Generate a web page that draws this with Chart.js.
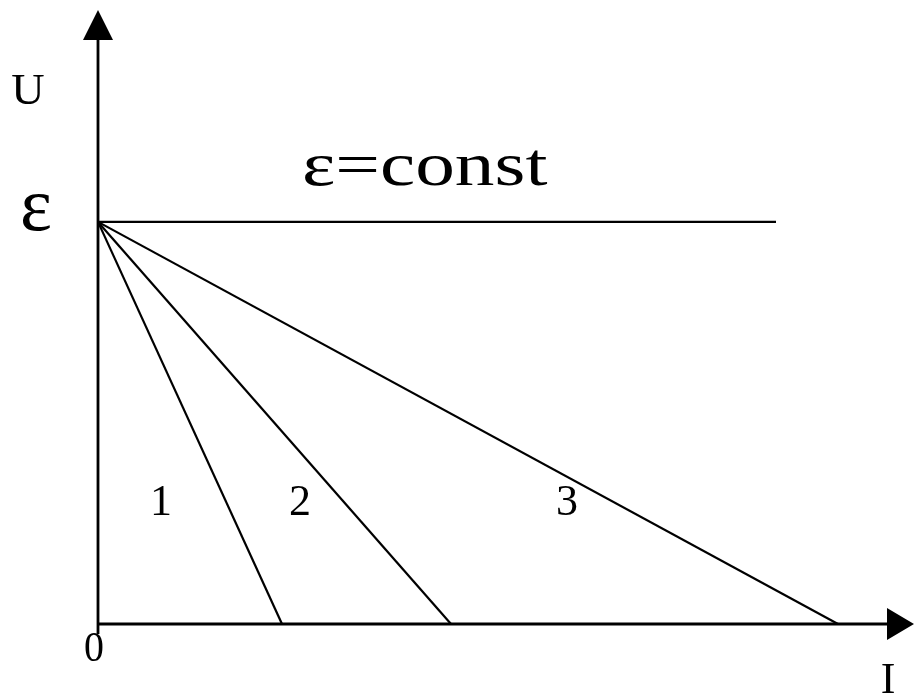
<!DOCTYPE html>
<html>
<head>
<meta charset="utf-8">
<script src="https://cdn.jsdelivr.net/npm/chart.js@4/dist/chart.umd.min.js"></script>
<style>
  html, body { margin: 0; padding: 0; background: #fff; }
  #wrap { width: 915px; height: 698px; position: relative; }
</style>
</head>
<body>
<div id="wrap"><canvas id="c" width="915" height="698"></canvas></div>
<script>
// ---- data (U in units of EMF, I in arbitrary units) ----
const emf = 1.0;                        // ε level
const emfLineEnd = 6.78;                // I where the ε=const line stops
const shortCircuitI = [1.84, 3.53, 7.40]; // I where lines 1, 2, 3 reach U = 0
const seriesNames = ['1', '2', '3'];
const axisMaxI = 8.16;
const axisMaxU = 1.527;

const datasets = [];
datasets.push({
  label: 'ε=const',
  data: [{x: 0, y: emf}, {x: emfLineEnd, y: emf}],
});
shortCircuitI.forEach((isc, i) => {
  datasets.push({
    label: seriesNames[i],
    data: [{x: 0, y: emf}, {x: isc, y: 0}],
  });
});
datasets.forEach(d => {
  d.showLine = true;
  d.borderColor = '#000';
  d.borderWidth = 2.2;
  d.pointRadius = 0;
  d.fill = false;
  d.clip = false;
});

// label placements (data coordinates)
const F = '"Liberation Serif", "Times New Roman", serif';
const labelSpecs = [
  {text: 'U', x: -0.70, y: 1.323, font: '44px ' + F, sx: 1.05, align: 'center', base: 'middle'},
  {text: 'ε', x: -0.62, y: 1.03, font: '76px ' + F, sx: 1.0, align: 'center', base: 'middle'},
  {text: 'ε=const', x: 2.04, y: 1.092, font: '61px ' + F, sx: 1.3, align: 'left', base: 'alphabetic'},
  {text: '0', x: -0.04, y: -0.065, font: '42px ' + F, sx: 0.95, align: 'center', base: 'middle'},
  {text: 'I', x: 7.90, y: -0.142, font: '44px ' + F, sx: 1.0, align: 'center', base: 'middle'},
  {text: seriesNames[0], x: 0.63, y: 0.301, font: '44px ' + F, sx: 1.0, align: 'center', base: 'middle'},
  {text: seriesNames[1], x: 2.02, y: 0.301, font: '44px ' + F, sx: 1.0, align: 'center', base: 'middle'},
  {text: seriesNames[2], x: 4.69, y: 0.301, font: '44px ' + F, sx: 1.0, align: 'center', base: 'middle'},
];

const axesPlugin = {
  id: 'axesArrows',
  beforeDatasetsDraw(chart) {
    const ctx = chart.ctx;
    const xs = chart.scales.x, ys = chart.scales.y;
    const x0 = xs.getPixelForValue(0), y0 = ys.getPixelForValue(0);
    const xEnd = xs.getPixelForValue(axisMaxI), yEnd = ys.getPixelForValue(axisMaxU);
    ctx.save();
    ctx.strokeStyle = '#000';
    ctx.fillStyle = '#000';
    ctx.lineWidth = 2.8;
    ctx.beginPath();
    ctx.moveTo(x0, y0 + 10);
    ctx.lineTo(x0, yEnd + 20);
    ctx.moveTo(x0 - 1, y0);
    ctx.lineTo(xEnd - 20, y0);
    ctx.stroke();
    // up arrow
    ctx.beginPath();
    ctx.moveTo(x0, yEnd);
    ctx.lineTo(x0 - 15, yEnd + 30);
    ctx.lineTo(x0 + 15, yEnd + 30);
    ctx.closePath();
    ctx.fill();
    // right arrow
    ctx.beginPath();
    ctx.moveTo(xEnd, y0);
    ctx.lineTo(xEnd - 27, y0 - 16);
    ctx.lineTo(xEnd - 27, y0 + 16);
    ctx.closePath();
    ctx.fill();
    ctx.restore();
  },
  afterDraw(chart) {
    const ctx = chart.ctx;
    const xs = chart.scales.x, ys = chart.scales.y;
    ctx.save();
    ctx.fillStyle = '#000';
    labelSpecs.forEach(l => {
      const px = xs.getPixelForValue(l.x), py = ys.getPixelForValue(l.y);
      ctx.save();
      ctx.translate(px, py);
      ctx.scale(l.sx, 1);
      ctx.font = l.font;
      ctx.textAlign = l.align;
      ctx.textBaseline = l.base;
      ctx.fillText(l.text, 0, 0);
      ctx.restore();
    });
    ctx.restore();
  }
};

const bgPlugin = {
  id: 'bg',
  beforeDraw(chart) {
    const ctx = chart.ctx;
    ctx.save();
    ctx.fillStyle = '#fff';
    ctx.fillRect(0, 0, chart.width, chart.height);
    ctx.restore();
  }
};

new Chart(document.getElementById('c'), {
  type: 'scatter',
  data: { datasets },
  options: {
    responsive: false,
    animation: false,
    layout: { padding: { left: 98, top: 10, right: 1, bottom: 74 } },
    plugins: { legend: { display: false }, tooltip: { enabled: false }, title: { display: false } },
    scales: {
      x: { type: 'linear', min: 0, max: axisMaxI, display: false },
      y: { type: 'linear', min: 0, max: axisMaxU, display: false }
    },
    elements: { line: { tension: 0 } }
  },
  plugins: [bgPlugin, axesPlugin]
});
</script>
</body>
</html>
